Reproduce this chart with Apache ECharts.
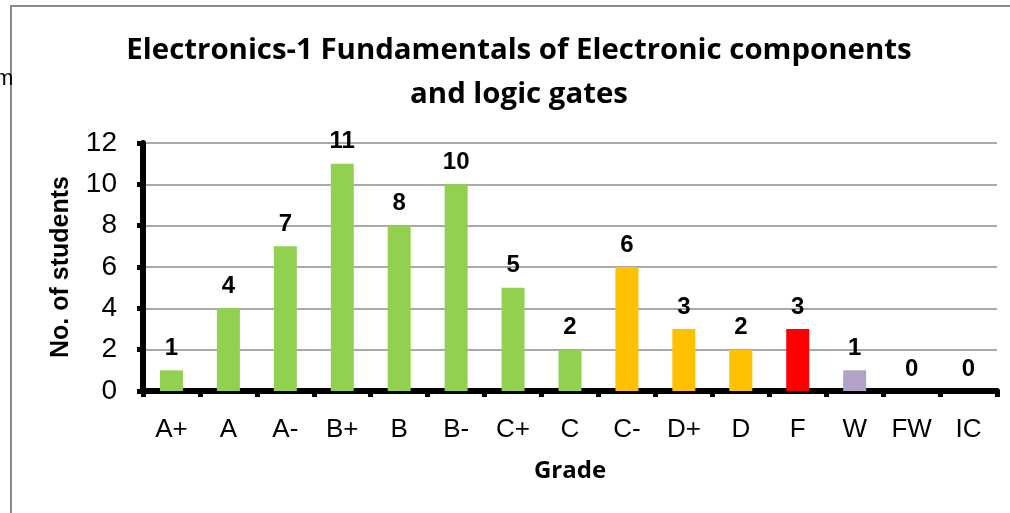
<!DOCTYPE html>
<html>
<head>
<meta charset="utf-8">
<script src="https://cdn.jsdelivr.net/npm/echarts@6/dist/echarts.min.js"></script>
<style>
  html, body { margin: 0; padding: 0; background: #fff; }
  #chart { width: 1010px; height: 513px; }
</style>
</head>
<body>
<div id="chart"></div>
<script>
const grades = ['A+', 'A', 'A-', 'B+', 'B', 'B-', 'C+', 'C', 'C-', 'D+', 'D', 'F', 'W', 'FW', 'IC']
const students = [1, 4, 7, 11, 8, 10, 5, 2, 6, 3, 2, 3, 1, 0, 0]
const barColors = ['#92D050', '#92D050', '#92D050', '#92D050', '#92D050', '#92D050', '#92D050', '#92D050',
  '#FFC000', '#FFC000', '#FFC000', '#FF0000', '#B3A2C7', '#B3A2C7', '#B3A2C7']

const chart = echarts.init(document.getElementById('chart'), null, { renderer: 'canvas' })

const option = {
  backgroundColor: '#fff',
  animation: false,
  title: {
    text: 'Electronics-1 Fundamentals of Electronic components\nand logic gates',
    left: 514,
    textAlign: 'center',
    top: 24,
    textStyle: { fontFamily: 'Open Sans', fontWeight: 'bold', fontSize: 29.4, lineHeight: 44, color: '#000' },
  },
  graphic: [
    { type: 'rect', shape: { x: 11, y: 6, width: 1200, height: 700 }, style: { fill: 'none', stroke: '#8c8c8c', lineWidth: 2 }, z: -1 },
    { type: 'text', left: -5, top: 68, style: { text: 'm', font: '22px "Liberation Sans"', fill: '#000' } },
  ],
  grid: { left: 143, right: 13, top: 143, bottom: 122 },
  xAxis: {
    type: 'category',
    data: grades,
    name: 'Grade',
    nameLocation: 'middle',
    nameGap: 68,
    nameTextStyle: { fontFamily: 'Open Sans', fontWeight: 'bold', fontSize: 24, color: '#000' },
    axisLine: { lineStyle: { color: '#000', width: 6 } },
    axisTick: { show: true, length: 6, lineStyle: { color: '#000', width: 5 } },
    axisLabel: { fontFamily: 'Liberation Sans', fontSize: 26, color: '#000', margin: 26 },
  },
  yAxis: {
    type: 'value',
    min: 0, max: 12, interval: 2,
    name: 'No. of students',
    nameLocation: 'middle',
    nameRotate: 90,
    nameGap: 69,
    nameTextStyle: { fontFamily: 'Liberation Sans', fontWeight: 'bold', fontSize: 25, color: '#000' },
    axisLine: { show: true, lineStyle: { color: '#000', width: 6 } },
    axisTick: { show: true, length: 6, lineStyle: { color: '#000', width: 5 } },
    axisLabel: { fontFamily: 'Liberation Sans', fontSize: 28, color: '#000', margin: 26 },
    splitLine: { lineStyle: { color: '#8c8c8c', width: 1.5 } },
  },
  series: [{
    type: 'bar',
    data: students.map((v, i) => ({ value: v, itemStyle: { color: barColors[i] } })),
    barWidth: 23,
    label: {
      show: true,
      position: 'top',
      distance: 10,
      fontFamily: 'Liberation Sans',
      fontWeight: 'bold',
      fontSize: 24,
      color: '#000',
    },
  }],
}

chart.setOption(option)
</script>
</body>
</html>
